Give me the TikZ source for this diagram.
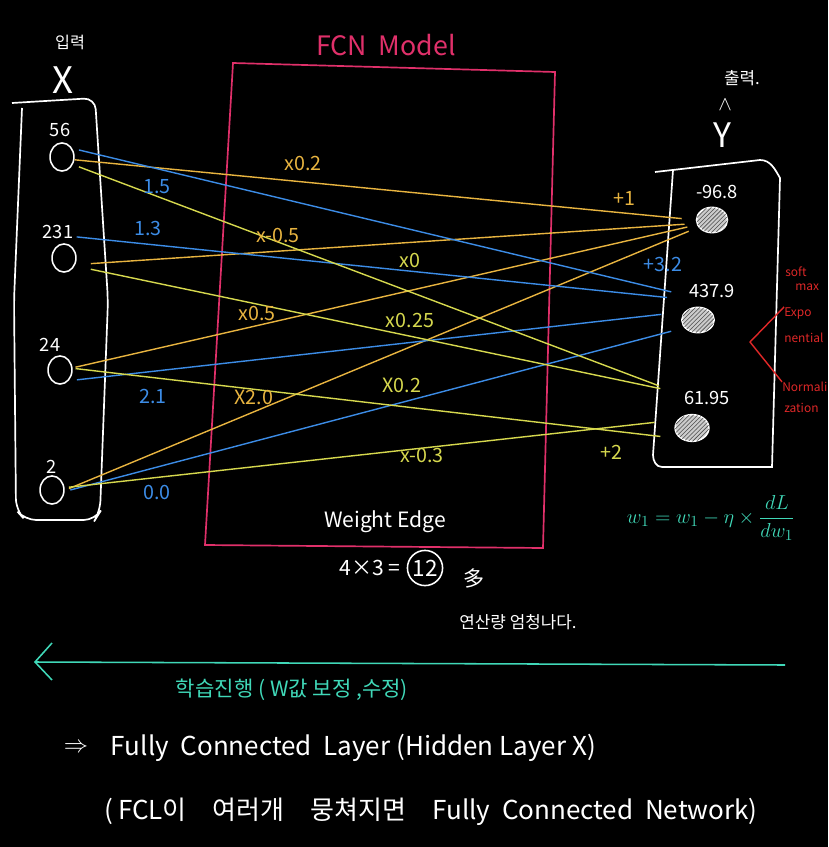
\documentclass[tikz,border=0pt]{standalone}
\usepackage{fontspec}
\setmainfont{Noto Sans CJK KR}
\usetikzlibrary{shapes.geometric,patterns,positioning}

\definecolor{wOrange}{HTML}{E8B440}
\definecolor{wYellow}{HTML}{D6D84E}
\definecolor{wBlue}{HTML}{3C8CE6}
\definecolor{fcnPink}{HTML}{E0306A}
\definecolor{noteRed}{HTML}{E02828}
\definecolor{noteTeal}{HTML}{40D8B8}

\newcommand{\fsz}[1]{\fontsize{#1}{#1}\selectfont}

\begin{document}
\begin{tikzpicture}[x=0.025cm, y=-0.025cm,
	innode/.style={ellipse, draw=white, line width=1.1pt, minimum width=17pt, minimum height=20pt, inner sep=0pt},
	outnode/.style={ellipse, draw=white, line width=1.1pt, fill=white!80!black, minimum width=22pt, minimum height=18pt, inner sep=0pt, postaction={pattern=north east lines, pattern color=black!70}},
	wline/.style={line width=1pt},
	wt/.style={font=\fsz{14}},
	val/.style={text=white, font=\fsz{13}},
	note/.style={text=noteRed, font=\fsz{8.5}, inner sep=0pt},
	pen/.style={draw=white, line width=1.2pt}]
	\useasboundingbox (0,0) rectangle (828,847);
	\fill[black] (0,0) rectangle (828,847);

	\node[text=white, font=\fsz{11.5}] (inlbl) at (70,42) {입력};
	\node[text=white, font=\fsz{26}] (xlbl) at (63,80) {X};
	\draw[pen, rounded corners=8pt] (12,103) -- (95,98) -- (108,300) -- (100,512) -- (95,520) -- (25,520) -- (16,510) -- (14,300) -- (22,108);

	\node[innode] (i1) at (62,157) {};
	\node[innode] (i2) at (64,258) {};
	\node[innode] (i3) at (60,370) {};
	\node[innode] (i4) at (52,490) {};
	\node[val] (v1) at (60,130) {56};
	\node[val] (v2) at (58,232) {231};
	\node[val] (v3) at (50,345) {24};
	\node[val] (v4) at (52,467) {2};

	\node[text=fcnPink, font=\fsz{19}] (fcn) at (386,45) {FCN\ \ Model};
	\draw[fcnPink, line width=1.2pt] (233,63) -- (555,72) -- (543,548) -- (205,545) -- cycle;

	\node[text=white, font=\fsz{12}] (outlbl) at (742,78) {출력.};
	\node[text=white, font=\fsz{14}, inner sep=0pt] (hat) at (725,105) {$\wedge$};
	\node[text=white, font=\fsz{24}, inner sep=0pt] (ylbl) at (722,135) {Y};
	\draw[pen] (655,172) -- (760,160) to[out=0,in=120] (780,178) -- (772,467) -- (662,467) to[out=180,in=-90] (653,455) -- (673,170);

	\node[outnode] (o1) at (712,220) {};
	\node[outnode, minimum width=23pt] (o2) at (698,320) {};
	\node[outnode, minimum width=24pt, minimum height=19pt] (o3) at (692,428) {};
	\node[val] (u1) at (717,192) {-96.8};
	\node[val] (u2) at (712,291) {437.9};
	\node[val] (u3) at (707,398) {61.95};

	\draw[wline, wOrange] ([yshift=-2pt]i1.east) -- ([xshift=-10pt, yshift=1pt]o1.west);
	\draw[wline, wOrange] ([xshift=10pt, yshift=-4pt]i2.east) -- ([xshift=-8pt, yshift=-3pt]o1.west);
	\draw[wline, wOrange] ([xshift=2pt, yshift=2pt]i3.east) -- ([xshift=-6pt, yshift=-5pt]o1.west);
	\draw[wline, wOrange] ([xshift=3pt, yshift=1pt]i4.east) -- ([xshift=-5pt, yshift=-8pt]o1.west);

	\draw[wline, wBlue] ([xshift=3pt, yshift=5pt]i1.east) -- ([xshift=-7pt, yshift=20pt]o2.west);
	\draw[wline, wBlue] ([yshift=15pt]i2.east) -- ([xshift=-10pt, yshift=16pt]o2.west);
	\draw[wline, wBlue] ([xshift=3pt, yshift=-7pt]i3.east) -- ([xshift=-14pt, yshift=4pt]o2.west);
	\draw[wline, wBlue] ([xshift=4pt]i4.east) -- ([xshift=-7pt, yshift=-8pt]o2.west);

	\draw[wline, wYellow] ([xshift=3pt, yshift=-7pt]i1.east) -- ([xshift=-11pt, yshift=30pt]o3.west);
	\draw[wline, wYellow] ([xshift=10pt, yshift=-8pt]i2.east) -- ([xshift=-10pt, yshift=28pt]o3.west);
	\draw[wline, wYellow] ([xshift=2pt, yshift=1pt]i3.east) -- ([xshift=-10pt, yshift=-6pt]o3.west);
	\draw[wline, wYellow] ([xshift=3pt, yshift=2pt]i4.east) -- ([xshift=-14pt, yshift=4pt]o3.west);

	\node[wt, text=wOrange] (w11) at (303,163) {x0.2};
	\node[wt, text=wOrange] (w21) at (278,235) {x-0.5};
	\node[wt, text=wOrange] (w31) at (257,313) {x0.5};
	\node[wt, text=wOrange] (w41) at (254,397) {X2.0};
	\node[wt, text=wBlue] (w12) at (157,187) {1.5};
	\node[wt, text=wBlue] (w22) at (148,228) {1.3};
	\node[wt, text=wBlue] (w32) at (153,396) {2.1};
	\node[wt, text=wBlue] (w42) at (157,492) {0.0};
	\node[wt, text=wYellow] (w13) at (410,260) {x0};
	\node[wt, text=wYellow] (w23) at (410,320) {x0.25};
	\node[wt, text=wYellow] (w33) at (402,385) {X0.2};
	\node[wt, text=wYellow] (w43) at (422,455) {x-0.3};
	\node[wt, text=wOrange] (b1) at (624,198) {+1};
	\node[wt, text=wBlue] (b2) at (663,264) {+3.2};
	\node[wt, text=wYellow] (b3) at (611,452) {+2};

	\node[note, anchor=west] (sm1) at (785,272) {soft};
	\node[note, anchor=west] (sm2) at (795,287) {max};
	\node[note, anchor=west] (ex1) at (784,313) {Expo};
	\node[note, anchor=west] (ex2) at (784,338) {nential};
	\node[note, anchor=west] (nm1) at (782,387) {Normali};
	\node[note, anchor=west] (nm2) at (784,408) {zation};
	\coordinate (br) at (750,342);
	\draw[noteRed, line width=1pt] (ex1.north west) -- (br) -- (nm1.north west);

	\node[text=noteTeal, font=\fsz{15}, anchor=west] (upd) at (622,518) {$w_1 = w_1 - \eta \times \displaystyle\frac{dL}{dw_1}$};

	\node[text=white, font=\fsz{15}] (we) at (385,522) {Weight Edge};
	\node[circle, draw=white, line width=1.1pt, text=white, font=\fsz{16}, minimum size=25pt, inner sep=0pt] (n12) at (425,568) {12};
	\node[text=white, font=\fsz{15}, left=1pt of n12] (mul) {4×3 =};
	\node[text=white, font=\fsz{15}] (many) at (474,578) {多};
	\node[text=white, font=\fsz{12}] (calc) at (518,622) {연산량 엄청나다.};

	\coordinate (tl) at (35,662);
	\coordinate (tr) at (785,665);
	\draw[noteTeal, line width=1.1pt] (tr) -- (tl);
	\draw[noteTeal, line width=1.1pt] (52,643) -- (tl) -- (52,680);
	\node[text=noteTeal, font=\fsz{15}] (learn) at (292,690) {학습진행 ( W값 보정 ,수정)};

	\node[text=white, font=\fsz{16}] (impl) at (76,748) {$\Rightarrow$};
	\node[text=white, font=\fsz{18.5}, anchor=west] (fcl) at (106,748) {Fully\ \ Connected\ \ Layer (Hidden Layer X)};
	\node[text=white, font=\fsz{18.5}, anchor=west] (fcnet) at (100,812) {(\,FCL이\quad 여러개\quad 뭉쳐지면\quad Fully\ \ Connected\ \ Network)};
\end{tikzpicture}
\end{document}
